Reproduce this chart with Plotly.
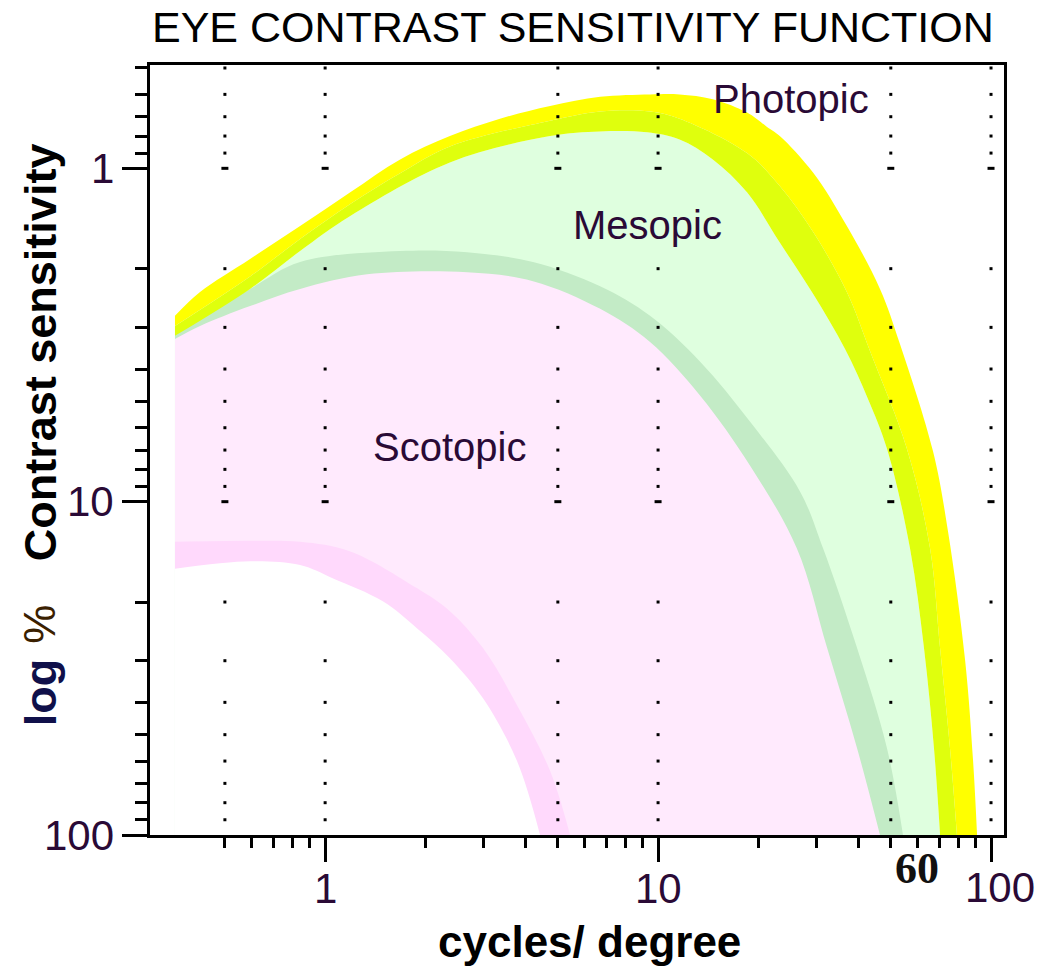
import numpy as np
import plotly.graph_objects as go

# ---------------- data (cycles/degree, contrast sensitivity %) ----------------
photopic_outer_f = [0.354, 0.421, 0.595, 0.841, 1.19, 1.68, 2.37, 3.35, 4.74, 6.70, 9.46, 11.6,
                    14.6, 18.5, 21.2, 23.2, 29.2, 36.9, 46.4, 53.3, 66.9, 74.3, 83.6, 88.3, 90.8]
photopic_outer_s = [2.77, 2.35, 1.87, 1.49, 1.18, 0.94, 0.80, 0.71, 0.65, 0.61, 0.60, 0.60,
                    0.62, 0.68, 0.75, 0.80, 1.03, 1.49, 2.30, 3.37, 7.04, 12.3, 29.9, 59.6, 100]

photopic_mid_f = [0.354, 0.595, 0.841, 1.19, 1.68, 2.37, 4.74, 6.70, 9.46, 11.6, 18.5, 23.2,
                  29.2, 36.9, 43.3, 55.9, 65.6, 70.3, 75.3, 79.0]
photopic_mid_s = [2.97, 2.11, 1.63, 1.28, 1.035, 0.86, 0.72, 0.675, 0.675, 0.71, 0.90, 1.13,
                  1.55, 2.35, 3.53, 6.94, 13.8, 27.5, 54.9, 100]

photopic_inner_f = [0.354, 0.595, 0.841, 1.19, 2.37, 4.74, 6.70, 9.27, 11.6, 14.6, 18.5, 23.2,
                    29.2, 36.4, 42.7, 48.7, 57.1, 62.9, 67.4, 70.3]
photopic_inner_s = [3.18, 2.30, 1.77, 1.39, 0.96, 0.80, 0.775, 0.78, 0.82, 0.94, 1.18, 1.67,
                    2.38, 3.48, 4.92, 6.94, 13.8, 27.5, 54.9, 100]

mesopic_outer_f = [0.354, 0.595, 0.841, 1.68, 2.67, 4.21, 6.70, 9.46, 13.4, 18.9, 26.7, 31.3, 39.6, 48.7, 54.4]
mesopic_outer_s = [3.14, 2.30, 1.91, 1.77, 1.785, 1.91, 2.26, 2.77, 3.81, 5.76, 9.33, 13.8, 27.5, 54.9, 100]

mesopic_inner_f = [0.354, 0.421, 0.595, 0.841, 1.337, 2.67, 4.21, 6.70, 9.46, 13.4, 18.9, 26.1, 32.2, 39.6, 46.4]
mesopic_inner_s = [3.25, 2.97, 2.59, 2.30, 2.08, 2.05, 2.18, 2.64, 3.32, 4.82, 7.80, 13.8, 27.5, 54.9, 100]

scotopic_outer_f = [0.354, 0.595, 0.841, 1.19, 1.89, 2.37, 2.98, 3.77, 4.74, 5.44]
scotopic_outer_s = [13.2, 13.1, 13.2, 14.1, 18.2, 21.3, 27.5, 40.8, 64.3, 100]

scotopic_inner_f = [0.354, 0.595, 0.841, 1.057, 1.49, 1.89, 2.37, 2.98, 3.77, 4.42]
scotopic_inner_s = [15.9, 15.1, 15.5, 17.0, 19.9, 24.0, 29.5, 38.9, 60.0, 100]

region_labels = ["Photopic", "Mesopic", "Scotopic"]
region_label_f = [25.0, 9.3, 2.36]
region_label_s = [0.62, 1.48, 6.87]

x_major_ticks = [1, 10, 100]
x_minor_ticks = [0.5, 0.6, 0.7, 0.8, 0.9, 2, 3, 4, 5, 6, 7, 8, 9, 20, 30, 40, 50, 60, 70, 80, 90]
y_major_ticks = [1, 10, 100]
y_minor_ticks = [0.5, 0.6, 0.7, 0.8, 0.9, 2, 3, 4, 5, 6, 7, 8, 9, 20, 30, 40, 50, 60, 70, 80, 90]
x_grid = [0.5, 1, 5, 10, 50, 100]
y_grid = [0.5, 0.6, 0.7, 0.8, 0.9, 2, 3, 4, 5, 6, 7, 8, 9, 20, 30, 40, 50, 60, 70, 80, 90]
y_grid_major = [1, 10]

# ---------------- figure ----------------
Y_FLOOR = 100
TXT = "#2a0a36"
FONT = "Liberation Sans, Arial, sans-serif"

fig = go.Figure()


def curve(f, s, fill=None, color=None):
    kw = dict(fill=fill, fillcolor=color) if fill else {}
    fig.add_trace(go.Scatter(x=f, y=s, mode="lines",
                             line=dict(width=0, shape="spline", smoothing=1.0),
                             hoverinfo="skip", showlegend=False, **kw))


def region(f, s, color):
    # invisible floor along the bottom axis, then the curve filled down to it
    fig.add_trace(go.Scatter(x=[f[0], f[-1]], y=[Y_FLOOR, Y_FLOOR], mode="lines",
                             line=dict(width=0), hoverinfo="skip", showlegend=False))
    curve(f, s, "tonexty", color)


region(photopic_inner_f, photopic_inner_s, "#dfffdf")   # mesopic light green
region(mesopic_outer_f, mesopic_outer_s, "#c3ebc6")     # mesopic edge band
region(mesopic_inner_f, mesopic_inner_s, "#ffeafd")     # scotopic light pink
region(scotopic_outer_f, scotopic_outer_s, "#ffd9fc")   # scotopic edge band
region(scotopic_inner_f, scotopic_inner_s, "#ffffff")   # below scotopic
# photopic band: outer -> mid (yellow), mid -> inner (yellow-green)
curve(photopic_outer_f, photopic_outer_s)
curve(photopic_mid_f, photopic_mid_s, "tonexty", "#ffff00")
curve(photopic_inner_f, photopic_inner_s, "tonexty", "#dfff0d")

# dotted grid (dots at minor ticks, short dashes at decades)
gx = [gxv for gxv in x_grid for _ in y_grid]
gy = [gyv for _ in x_grid for gyv in y_grid]
fig.add_trace(go.Scatter(x=gx, y=gy, mode="markers",
                         marker=dict(symbol="square", size=3, color="black", line=dict(width=0)),
                         hoverinfo="skip", showlegend=False))
gx2 = [gxv for gxv in x_grid for _ in y_grid_major]
gy2 = [gyv for _ in x_grid for gyv in y_grid_major]
fig.add_trace(go.Scatter(x=gx2, y=gy2, mode="markers",
                         marker=dict(symbol="line-ew", size=5, color="black",
                                     line=dict(width=3, color="black")),
                         hoverinfo="skip", showlegend=False))

ann = []
for t, f, s in zip(region_labels, region_label_f, region_label_s):
    ann.append(dict(x=np.log10(f), y=np.log10(s), xref="x", yref="y", text=t, showarrow=False,
                    font=dict(family=FONT, size=40, color=TXT), xanchor="center", yanchor="middle"))

# tick labels
for v in [1, 10]:
    ann.append(dict(x=np.log10(v), y=0, xref="x", yref="paper", text=str(v), showarrow=False,
                    font=dict(family=FONT, size=42, color=TXT), xanchor="center", yanchor="middle",
                    yshift=-53))
ann.append(dict(x=np.log10(100), y=0, xref="x", yref="paper", text="100", showarrow=False,
                font=dict(family=FONT, size=42, color=TXT), xanchor="center", yanchor="middle",
                yshift=-52, xshift=9))
ann.append(dict(x=np.log10(60), y=0, xref="x", yref="paper", text="<b>60</b>", showarrow=False,
                font=dict(family="Liberation Serif, serif", size=44, color="#111111"),
                xanchor="center", yanchor="middle", yshift=-33))
for v in y_major_ticks:
    ann.append(dict(x=0, y=np.log10(v), xref="paper", yref="y", text=str(v), showarrow=False,
                    font=dict(family=FONT, size=42, color=TXT), xanchor="right", yanchor="middle",
                    xshift=-34))

# title and axis titles
ann.append(dict(x=0.495, y=1, xref="paper", yref="paper", text="EYE CONTRAST SENSITIVITY FUNCTION",
                showarrow=False, font=dict(family=FONT, size=43, color="#000000"),
                xanchor="center", yanchor="middle", yshift=38))
ann.append(dict(x=0.515, y=0, xref="paper", yref="paper", text="<b>cycles/ degree</b>",
                showarrow=False, font=dict(family=FONT, size=44, color="#000000"),
                xanchor="center", yanchor="middle", yshift=-106))
ann.append(dict(x=0, y=0.184, xref="paper", yref="paper", text="<b>log</b>", textangle=-90,
                showarrow=False, font=dict(family=FONT, size=45, color="#10104a"),
                xanchor="center", yanchor="middle", xshift=-110))
ann.append(dict(x=0, y=0.273, xref="paper", yref="paper", text="%", textangle=-90,
                showarrow=False, font=dict(family=FONT, size=44, color="#3a2000"),
                xanchor="center", yanchor="middle", xshift=-110))
ann.append(dict(x=0, y=0.627, xref="paper", yref="paper", text="<b>Contrast sensitivity</b>",
                textangle=-90, showarrow=False, font=dict(family=FONT, size=45, color="#000000"),
                xanchor="center", yanchor="middle", xshift=-110))

axis_common = dict(type="log", showgrid=False, zeroline=False, showline=True, linewidth=3,
                   linecolor="black", mirror=True, ticks="outside", tickwidth=3, tickcolor="black",
                   showticklabels=False)

fig.update_layout(
    width=1048, height=967,
    margin=dict(l=150, r=44, t=65, b=132),
    paper_bgcolor="white", plot_bgcolor="white",
    showlegend=False,
    xaxis=dict(**axis_common, range=[-0.526, 2.039], tickvals=x_major_ticks, ticklen=24,
               minor=dict(tickvals=x_minor_ticks, ticks="outside", ticklen=10, tickwidth=3,
                          tickcolor="black", showgrid=False)),
    yaxis=dict(**axis_common, range=[2, -0.31], tickvals=y_major_ticks, ticklen=25,
               minor=dict(tickvals=y_minor_ticks, ticks="outside", ticklen=12, tickwidth=3,
                          tickcolor="black", showgrid=False)),
    annotations=ann,
)

fig.write_html("out.html", config={"displayModeBar": False},
               post_script="document.body.style.margin='0';document.body.style.padding='0';")
